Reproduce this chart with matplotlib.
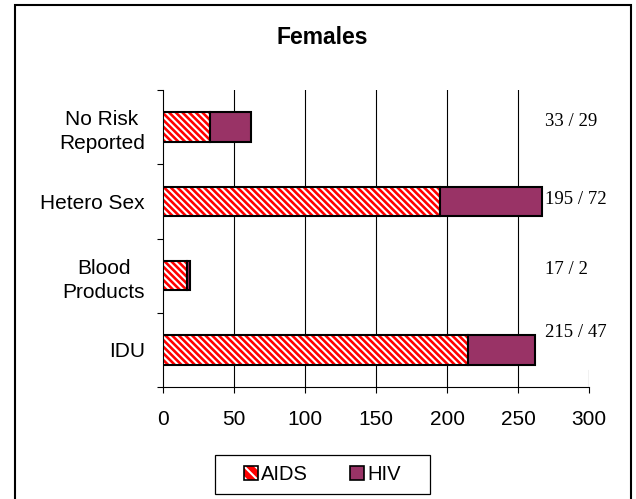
import matplotlib
matplotlib.use("Agg")
import matplotlib.pyplot as plt
from matplotlib.patches import Patch, Rectangle
import numpy as np

# data (bottom to top)
categories = ["IDU", "Blood\nProducts", "Hetero Sex", "No Risk\nReported"]
aids = [215, 17, 195, 33]
hiv = [47, 2, 72, 29]
xticks = [0, 50, 100, 150, 200, 250, 300]

# layout of the "aids / hiv" labels (vertical offset from bar centre, in category units)
label_dy = [0.23, 0.08, 0.03, 0.07]

SANS = "Liberation Sans"
SERIF = "Liberation Serif"
RED = "#ff0000"
PLUM = "#993366"
HATCH = "\\" * 5

plt.rcParams["hatch.linewidth"] = 1.5

W, H = 636, 499
fig = plt.figure(figsize=(W / 100, H / 100), dpi=100)
ax = fig.add_axes([163 / W, 1 - 387 / H, (589 - 163) / W, (387 - 90) / H])

y = np.arange(len(categories))
bh = 0.4
# AIDS: red with white diagonal stripes, black outline drawn on top
ax.barh(y, aids, height=bh, color=RED, edgecolor="white", hatch=HATCH, linewidth=0, zorder=3)
ax.barh(y, aids, height=bh, fill=False, edgecolor="black", linewidth=1.5, zorder=4)
ax.barh(y, hiv, left=aids, height=bh, color=PLUM, edgecolor="black", linewidth=1.5, zorder=4)

ax.set_xlim(0, 300)
ax.set_ylim(-0.5, len(categories) - 0.5)

# gridlines
for xv in xticks[1:-1]:
    ax.axvline(xv, color="black", linewidth=0.8, zorder=1)
ax.axvline(xticks[-1], ymin=0, ymax=17 / 297, color="black", linewidth=0.8, zorder=1)

for s in ["top", "right"]:
    ax.spines[s].set_visible(False)
for s in ["left", "bottom"]:
    ax.spines[s].set_linewidth(0.8)

ax.set_xticks(xticks)
ax.set_xticklabels([str(v) for v in xticks], fontsize=15, family=SANS)
ax.tick_params(axis="x", direction="out", length=4.5, width=0.8, pad=12)

ax.set_yticks(y)
ax.set_yticklabels(categories, fontsize=15, family=SANS, multialignment="center",
                   linespacing=1.35)
ax.set_yticks(np.arange(-0.5, len(categories)), minor=True)
ax.tick_params(axis="y", which="major", length=0, pad=13)
ax.tick_params(axis="y", which="minor", direction="out", length=4.5, width=0.8)

# value labels at the right
for i, (a, h) in enumerate(zip(aids, hiv)):
    ax.text((545 - 163) / 426, y[i] + label_dy[i], f"{a} / {h}",
            transform=ax.get_yaxis_transform(), ha="left", va="center",
            fontsize=13.5, family=SERIF, zorder=5)

# title
fig.text(322.5 / W, 1 - 37 / H, "Females", ha="center", va="center",
         fontsize=16.5, fontweight="bold", family=SANS)

# legend
h_aids = (Patch(facecolor=RED, edgecolor="white", hatch="\\\\\\", linewidth=0),
          Patch(fill=False, edgecolor="black", linewidth=1.2))
h_hiv = Patch(facecolor=PLUM, edgecolor="black", linewidth=1.2)
leg = fig.legend([h_aids, h_hiv], ["AIDS", "HIV"], loc="center",
                 bbox_to_anchor=(322.5 / W, 1 - 474.5 / H), ncol=2, frameon=False,
                 prop={"family": SANS, "size": 14.5},
                 handlelength=0.7, handleheight=0.7, handletextpad=0.15,
                 columnspacing=2.1)

fig.patches.append(Rectangle((215 / W, 1 - 494 / H), (430 - 215) / W, 39 / H,
                             transform=fig.transFigure, fill=False,
                             edgecolor="black", linewidth=0.9))
# outer chart frame
fig.patches.append(Rectangle((15 / W, -0.05), (631 - 15) / W, 1.05 - 5 / H,
                             transform=fig.transFigure, fill=False,
                             edgecolor="black", linewidth=1.5))

fig.savefig("out.png", dpi=100)
